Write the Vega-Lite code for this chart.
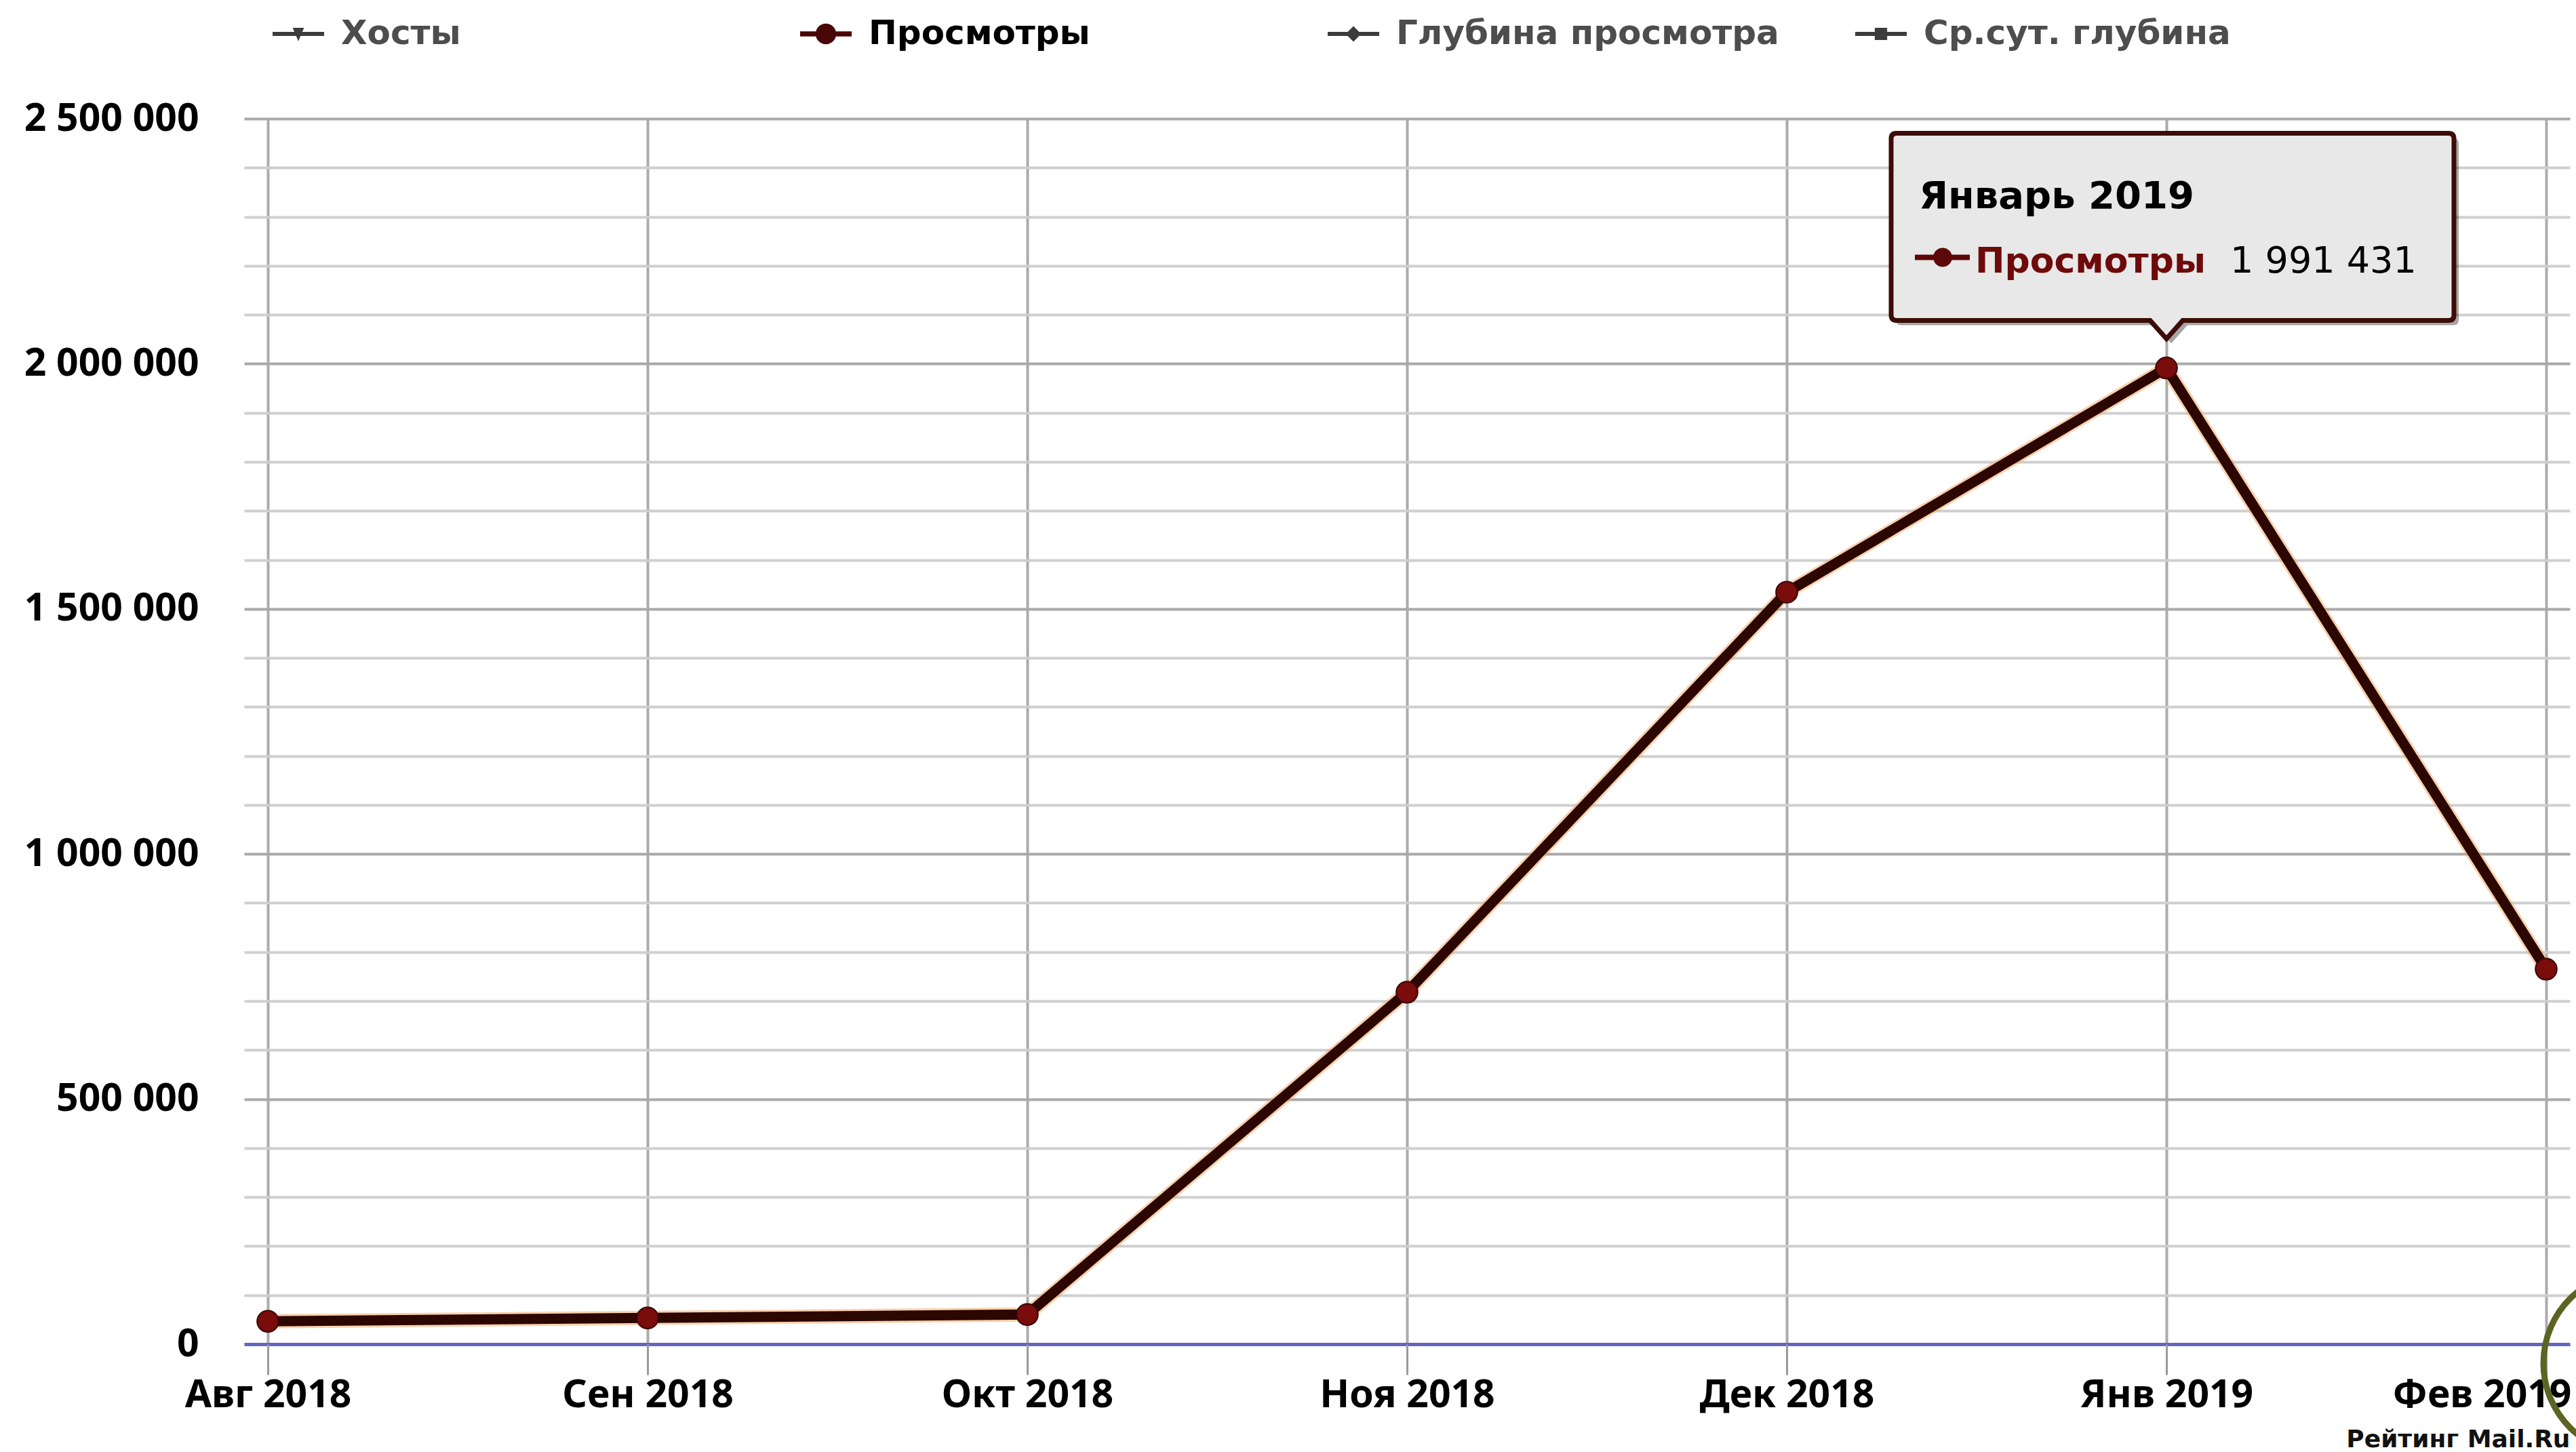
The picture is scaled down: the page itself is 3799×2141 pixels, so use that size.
{
  "$schema": "https://vega.github.io/schema/vega-lite/v6.json",
  "width": 3430,
  "height": 1807,
  "autosize": {"type": "none"},
  "padding": {"left": 360, "top": 175, "right": 9, "bottom": 159},
  "background": "white",
  "config": {
    "view": {"stroke": null},
    "locale": {"number": {"decimal": ",", "thousands": " ", "grouping": [3], "currency": ["", " ₽"]}},
    "axis": {"labelFont": "Noto Sans", "labelFontWeight": "bold", "labelFontSize": 57, "labelColor": "#000000", "labelLimit": 1000}
  },
  "data": {"values": [
    {"month": "Авг 2018", "full": "Август 2018", "series": "Просмотры", "views": 46600},
    {"month": "Сен 2018", "full": "Сентябрь 2018", "series": "Просмотры", "views": 53500},
    {"month": "Окт 2018", "full": "Октябрь 2018", "series": "Просмотры", "views": 60400},
    {"month": "Ноя 2018", "full": "Ноябрь 2018", "series": "Просмотры", "views": 718000},
    {"month": "Дек 2018", "full": "Декабрь 2018", "series": "Просмотры", "views": 1534000},
    {"month": "Янв 2019", "full": "Январь 2019", "series": "Просмотры", "views": 1991431},
    {"month": "Фев 2019", "full": "Февраль 2019", "series": "Просмотры", "views": 765000}
  ]},
  "encoding": {
    "x": {"field": "month", "type": "ordinal", "sort": null,
      "scale": {"type": "point", "padding": 0.0625},
      "axis": {"title": "Рейтинг Mail.Ru", "titleAnchor": "end", "titleAlign": "right", "titleFont": "DejaVu Sans", "titleFontSize": 36, "titleFontWeight": "bold", "titleColor": "#111111", "titlePadding": 20, "titleBaseline": "top",
        "labelAngle": 0, "grid": true, "gridColor": "#ababab", "gridWidth": 4, "domain": false, "ticks": true, "tickSize": 45, "tickColor": "#9a9a9a", "tickWidth": 3, "labelPadding": 2, "labelOverlap": false, "labelBound": false,
        "labelOffset": {"condition": {"test": "datum.value === 'Фев 2019'", "value": -95}, "value": 0}}},
    "y": {"field": "views", "type": "quantitative",
      "scale": {"domain": [0, 2500000], "nice": false},
      "axis": {"title": null, "values": [0,100000,200000,300000,400000,500000,600000,700000,800000,900000,1000000,1100000,1200000,1300000,1400000,1500000,1600000,1700000,1800000,1900000,2000000,2100000,2200000,2300000,2400000,2500000],
        "format": ",d", "labelExpr": "datum.value % 500000 === 0 ? datum.label : ''",
        "ticks": false, "tickSize": 0, "domain": false, "labelPadding": 67,
        "gridColor": {"condition": [{"test": "datum.value === 0", "value": "#6464c4"}, {"test": "datum.value % 500000 === 0", "value": "#a9a9a9"}], "value": "#cfcfcf"},
        "gridWidth": {"condition": {"test": "datum.value === 0", "value": 5}, "value": 4}}}
  },
  "layer": [
    {"mark": {"type": "line", "strokeWidth": 21, "color": "#f2a35e", "opacity": 0.5}, "encoding": {}},
    {"mark": {"type": "line", "strokeWidth": 15},
      "encoding": {"color": {"field": "series", "type": "nominal",
        "scale": {"domain": ["Хосты", "Просмотры", "Глубина просмотра", "Ср.сут. глубина"], "range": ["#444444", "#2c0600", "#444444", "#444444"]},
        "legend": {"title": null, "orient": "none", "legendX": 42, "legendY": -163, "direction": "horizontal", "columns": 4, "gridAlign": "all", "columnPadding": 112, "padding": 0,
          "symbolSize": 5776, "symbolOffset": 0, "labelOffset": 25, "labelFont": "DejaVu Sans", "labelFontSize": 50, "labelFontWeight": "bold", "labelLimit": 2000,
          "encode": {
            "symbols": {"update": {
              "shape": {"signal": "datum.value === 'Просмотры' ? 'M-1,-0.1H1V0.1H-1ZM-0.4,0A0.4,0.4 0 1,1 0.4,0A0.4,0.4 0 1,1 -0.4,0Z' : datum.value === 'Хосты' ? 'M-1,-0.08H1V0.08H-1ZM-0.22,-0.24H0.22L0,0.28Z' : datum.value === 'Глубина просмотра' ? 'M-1,-0.08H1V0.08H-1ZM0,-0.3L0.3,0L0,0.3L-0.3,0Z' : 'M-1,-0.08H1V0.08H-1ZM-0.24,-0.24H0.24V0.24H-0.24Z'"},
              "fill": {"signal": "datum.value === 'Просмотры' ? '#4a0707' : '#3c3c3c'"},
              "stroke": {"value": "transparent"},
              "strokeWidth": {"value": 0},
              "opacity": {"value": 1},
              "fillOpacity": {"value": 1}
            }},
            "labels": {"update": {"fill": {"signal": "datum.value === 'Просмотры' ? '#000000' : '#4d4d4d'"}}}
          }}}}},
    {"mark": {"type": "point", "filled": true, "size": 1000, "color": "#7a0c0c", "opacity": 1, "stroke": "#3a0505", "strokeWidth": 2}},
    {"transform": [{"filter": "datum.month === 'Фев 2019'"}],
      "mark": {"type": "point", "shape": "M-4,28A135,135 0 1,1 266,28A135,135 0 1,1 -4,28Z", "size": 4, "filled": false, "stroke": "#5b6422", "strokeWidth": 9, "opacity": 1},
      "encoding": {"y": {"datum": 0}}},
    {"transform": [{"filter": "datum.month === 'Янв 2019'"}],
      "mark": {"type": "point", "shape": "M-391,-339H423Q431,-339 431,-331V-71Q431,-63 423,-63H31L7,-36L-17,-63H-391Q-399,-63 -399,-71V-331Q-399,-339 -391,-339Z", "size": 4, "filled": true, "color": "#000000", "opacity": 0.35, "strokeWidth": 0}},
    {"transform": [{"filter": "datum.month === 'Янв 2019'"}],
      "mark": {"type": "point", "shape": "M-398,-346H416Q424,-346 424,-338V-78Q424,-70 416,-70H24L0,-43L-24,-70H-398Q-406,-70 -406,-78V-338Q-406,-346 -398,-346Z", "size": 4, "filled": true, "fill": "#e8e8e8", "stroke": "#3d0c06", "strokeWidth": 7, "opacity": 1}},
    {"transform": [{"filter": "datum.month === 'Янв 2019'"}],
      "mark": {"type": "point", "shape": "M-371,-167H-290V-159H-371ZM-344,-163A14,14 0 1,1 -316,-163A14,14 0 1,1 -344,-163Z", "size": 4, "filled": true, "color": "#5c0808", "opacity": 1, "strokeWidth": 0}},
    {"transform": [{"filter": "datum.month === 'Янв 2019'"}],
      "mark": {"type": "text", "align": "left", "baseline": "alphabetic", "dx": -365, "dy": -236, "font": "DejaVu Sans", "fontSize": 56, "fontWeight": "bold", "color": "#000000"},
      "encoding": {"text": {"field": "full", "type": "nominal"}}},
    {"transform": [{"filter": "datum.month === 'Янв 2019'"}],
      "mark": {"type": "text", "align": "left", "baseline": "alphabetic", "dx": -282, "dy": -141, "font": "DejaVu Sans", "fontSize": 52, "fontWeight": "bold", "color": "#6e0a0a"},
      "encoding": {"text": {"field": "series", "type": "nominal"}}},
    {"transform": [{"filter": "datum.month === 'Янв 2019'"}],
      "mark": {"type": "text", "align": "left", "baseline": "alphabetic", "dx": 94, "dy": -141, "font": "DejaVu Sans", "fontSize": 54, "fontWeight": "normal", "color": "#000000"},
      "encoding": {"text": {"field": "views", "type": "quantitative", "format": ",d"}}}
  ]
}
